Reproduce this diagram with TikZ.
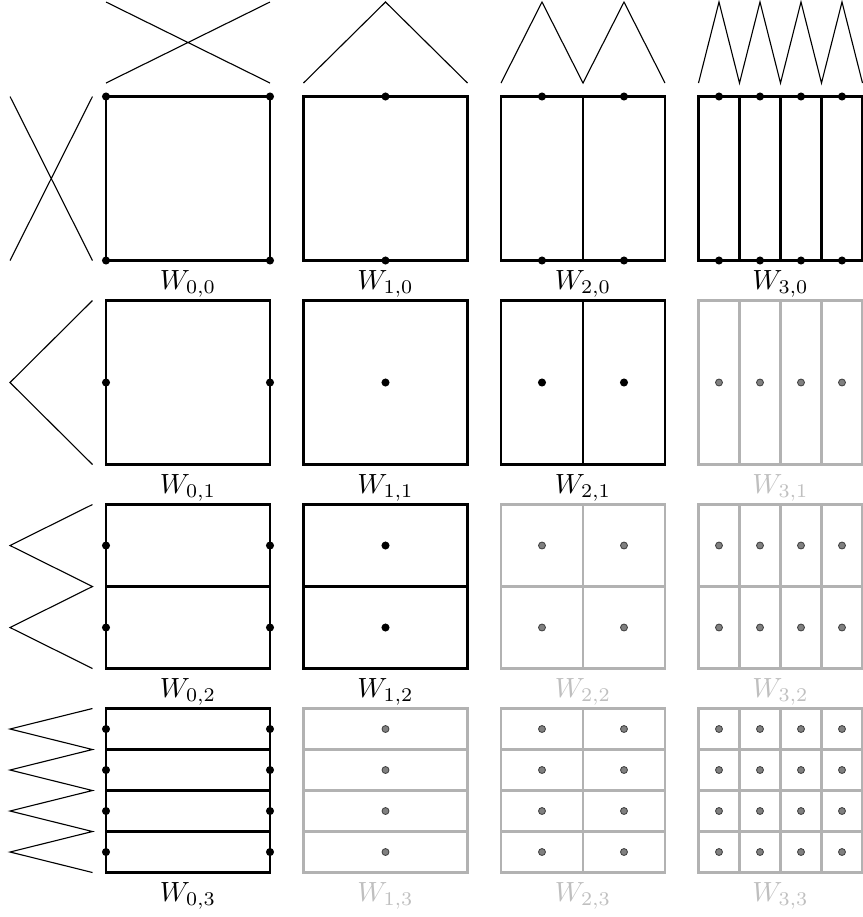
\documentclass[tikz,border=0pt]{standalone}
\usepackage{tikz}
\usetikzlibrary{positioning, calc}
\colorlet{faint}{black!30}
\colorlet{fainttext}{black!25}
\tikzstyle{wave} = [thin, black]
\tikzstyle{box} = [thick]
\tikzstyle{dot} = [fill=black]
\tikzstyle{faintdot} = [fill=black!50, draw=black!75, line width=0.3pt]
\begin{document}
\begin{tikzpicture}[x=0.36pt, y=-0.36pt]
        \useasboundingbox (0,0) rectangle (863,917);

        % waves above the columns
        \draw[wave] (106,83) -- (270,2) (106,2) -- (270,83);
        \foreach \i/\n in {1/1,2/2,3/4} {
            \pgfmathsetmacro\L{106+197.5*\i}
            \draw[wave] (\L,83) \foreach \k in {1,...,\n} { -- ++(82/\n,-81) -- ++(82/\n,81) };
        }

        % waves left of the rows
        \draw[wave] (10,96.5) -- (92.5,260.5) (92.5,96.5) -- (10,260.5);
        \foreach \j/\n in {1/1,2/2,3/4} {
            \pgfmathsetmacro\T{96.5+204*\j}
            \draw[wave] (92.5,\T) \foreach \k in {1,...,\n} { -- ++(-82.5,82/\n) -- ++(82.5,82/\n) };
        }

        % the sixteen boxes
        \foreach \i in {0,...,3} \foreach \j in {0,...,3} {
            \pgfmathsetmacro\L{106+197.5*\i}
            \pgfmathsetmacro\T{96.5+204*\j}
            \pgfmathtruncatemacro\nx{max(1,2^(\i-1))}
            \pgfmathtruncatemacro\ny{max(1,2^(\j-1))}
            \pgfmathtruncatemacro\mx{\i==0 ? 2 : \nx}
            \pgfmathtruncatemacro\my{\j==0 ? 2 : \ny}
            \ifnum\numexpr\i+\j\relax>3
                \def\clr{faint}\def\txt{fainttext}\def\pt{faintdot}\def\rad{1.25pt}
            \else
                \def\clr{black}\def\txt{black}\def\pt{dot}\def\rad{1.45pt}
            \fi
            \draw[box, draw=\clr] (\L,\T) rectangle ++(164,164);
            \ifnum\nx>1
                \foreach \k in {2,...,\nx} \draw[box, draw=\clr] (\L+164*\k/\nx-164/\nx,\T) -- ++(0,164);
            \fi
            \ifnum\ny>1
                \foreach \l in {2,...,\ny} \draw[box, draw=\clr] (\L,\T+164*\l/\ny-164/\ny) -- ++(164,0);
            \fi
            \foreach \k in {1,...,\mx} \foreach \l in {1,...,\my} {
                \pgfmathsetmacro\u{\i==0 ? \k-1 : (\k-0.5)/\nx}
                \pgfmathsetmacro\v{\j==0 ? \l-1 : (\l-0.5)/\ny}
                \path[\pt] (\L+164*\u,\T+164*\v) circle (\rad);
            }
            \node[anchor=base, text=\txt] (w-\i-\j) at (\L+82,\T+192.5) {$W_{\i,\j}$};
        }
    \end{tikzpicture}
\end{document}
